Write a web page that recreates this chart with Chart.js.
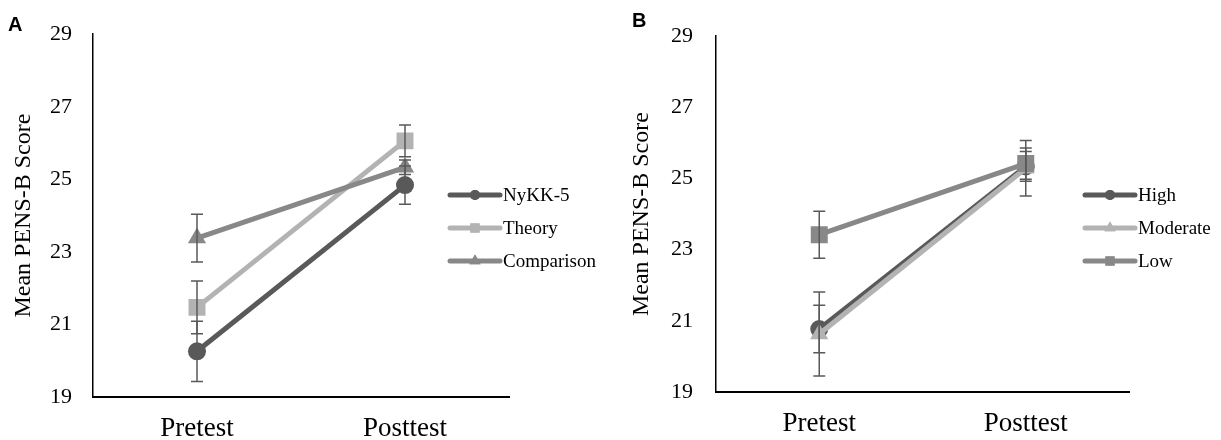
<!DOCTYPE html>
<html>
<head>
<meta charset="utf-8">
<script src="https://cdn.jsdelivr.net/npm/chart.js@4.4.1/dist/chart.umd.min.js"></script>
<style>
  html, body { margin: 0; padding: 0; background: #ffffff; }
  #wrap { position: relative; width: 1221px; height: 440px; overflow: hidden; background: #fff; }
  canvas { position: absolute; top: 0; }
  #cA { left: 0; }
  #cB { left: 610px; }
  .plabel { position: absolute; font-family: "Liberation Sans", Arial, sans-serif; font-weight: bold; font-size: 20px; color: #000; line-height: 1; }
</style>
</head>
<body>
<div id="wrap">
  <canvas id="cA" width="610" height="440"></canvas>
  <canvas id="cB" width="611" height="440"></canvas>
  <div class="plabel" style="left:8px; top:14px;">A</div>
  <div class="plabel" style="left:632px; top:10px;">B</div>
</div>
<script>
// ---------- data ----------
const categories = ['Pretest', 'Posttest'];
const yTicks = [19, 21, 23, 25, 27, 29];
const yTitle = 'Mean PENS-B Score';

// Panel A
const seriesNamesA = ['NyKK-5', 'Theory', 'Comparison'];
const nykkMeans = [20.26, 24.84];
const nykkErr = [0.83, 0.53];
const theoryMeans = [21.47, 26.06];
const theoryErr = [0.73, 0.44];
const comparisonMeans = [23.38, 25.33];
const comparisonErr = [0.66, 0.20];

// Panel B
const seriesNamesB = ['High', 'Moderate', 'Low'];
const highMeans = [20.77, 25.34];
const highErr = [0.67, 0.42];
const moderateMeans = [20.63, 25.29];
const moderateErr = [1.18, 0.78];
const lowMeans = [23.42, 25.42];
const lowErr = [0.66, 0.44];

// ---------- styles ----------
const DARK = '#595959', LIGHT = '#b3b3b3', MID = '#888888';
const SERIF = '"Liberation Serif", "Times New Roman", serif';

function ds(label, data, err, color, style, radius, order) {
  return {
    label, data, err,
    borderColor: color, backgroundColor: color,
    borderWidth: 5,
    pointStyle: style, pointRadius: radius, pointHoverRadius: radius,
    pointBackgroundColor: color, pointBorderColor: color, pointBorderWidth: 0,
    tension: 0, order
  };
}

const errorBarPlugin = {
  id: 'errorBars',
  afterDatasetsDraw(chart) {
    const ctx = chart.ctx;
    const ys = chart.scales.y;
    ctx.save();
    ctx.strokeStyle = '#595959';
    ctx.lineWidth = 1.5;
    chart.data.datasets.forEach((d, i) => {
      const meta = chart.getDatasetMeta(i);
      meta.data.forEach((pt, j) => {
        const v = d.data[j], e = d.err[j];
        const x = pt.x;
        const yt = ys.getPixelForValue(v + e);
        const yb = ys.getPixelForValue(v - e);
        ctx.beginPath();
        ctx.moveTo(x, yt); ctx.lineTo(x, yb);
        ctx.moveTo(x - 6, yt); ctx.lineTo(x + 6, yt);
        ctx.moveTo(x - 6, yb); ctx.lineTo(x + 6, yb);
        ctx.stroke();
      });
    });
    ctx.restore();
  }
};

const legendPlugin = {
  id: 'customLegend',
  afterDraw(chart, args, opts) {
    const ctx = chart.ctx;
    ctx.save();
    const ds = chart.data.datasets;
    ds.forEach((d, i) => {
      const y = opts.y0 + i * opts.gap;
      ctx.strokeStyle = d.borderColor;
      ctx.lineWidth = 5;
      ctx.lineCap = 'round';
      ctx.beginPath();
      ctx.moveTo(opts.x0, y); ctx.lineTo(opts.x0 + opts.len, y);
      ctx.stroke();
      ctx.fillStyle = d.borderColor;
      const cx = opts.x0 + opts.len / 2;
      const r = d.pointStyle === 'rect' ? 6.5 : (d.pointStyle === 'triangle' ? 6.5 : 5);
      Chart.helpers.drawPoint(ctx, { pointStyle: d.pointStyle, radius: r, rotation: 0, borderWidth: 0 }, cx, y);
      ctx.fill();
      ctx.fillStyle = '#000';
      ctx.font = '19px ' + SERIF;
      ctx.textBaseline = 'middle';
      ctx.textAlign = 'left';
      ctx.fillText(d.label, opts.x0 + opts.len + 3, y + 1);
    });
    ctx.restore();
  }
};

function makeChart(id, datasets, geo) {
  return new Chart(document.getElementById(id), {
    type: 'line',
    data: { labels: categories, datasets },
    plugins: [errorBarPlugin, legendPlugin],
    options: {
      responsive: false,
      maintainAspectRatio: false,
      animation: false,
      events: [],
      layout: { padding: { top: geo.top, right: geo.right, left: 0, bottom: 0 } },
      plugins: {
        legend: { display: false },
        tooltip: { enabled: false },
        customLegend: geo.legend
      },
      scales: {
        x: {
          type: 'category',
          offset: true,
          grid: { display: false, drawTicks: false },
          border: { display: true, color: '#000', width: 2 },
          ticks: { color: '#000', font: { family: SERIF, size: 27 }, padding: geo.xPad, maxRotation: 0 },
          afterFit(s) { s.height = geo.xHeight; }
        },
        y: {
          min: 19, max: 29,
          afterBuildTicks(s) { s.ticks = yTicks.map(v => ({ value: v })); },
          grid: { display: false, drawTicks: false },
          border: { display: true, color: '#000', width: 1.5 },
          ticks: { color: '#000', font: { family: SERIF, size: 22 }, padding: geo.yPad },
          title: { display: true, text: yTitle, color: '#000', font: { family: SERIF, size: 24 }, padding: { top: geo.titlePad, bottom: 0 } },
          afterFit(s) { s.width = geo.yWidth; }
        }
      }
    }
  });
}

makeChart('cA', [
  ds(seriesNamesA[0], nykkMeans, nykkErr, DARK, 'circle', 9, 3),
  ds(seriesNamesA[1], theoryMeans, theoryErr, LIGHT, 'rect', 12, 2),
  ds(seriesNamesA[2], comparisonMeans, comparisonErr, MID, 'triangle', 10.5, 1)
], { top: 29, right: 101, yWidth: 93, xHeight: 43, yPad: 21, xPad: 16, titlePad: 9,
     legend: { x0: 450, y0: 195, gap: 33, len: 50 } });

makeChart('cB', [
  ds(seriesNamesB[0], highMeans, highErr, DARK, 'circle', 9, 3),
  ds(seriesNamesB[1], moderateMeans, moderateErr, LIGHT, 'triangle', 10.5, 2),
  ds(seriesNamesB[2], lowMeans, lowErr, MID, 'rect', 12, 1)
], { top: 24, right: 92, yWidth: 106, xHeight: 48, yPad: 23, xPad: 16, titlePad: 17,
     legend: { x0: 475, y0: 195, gap: 33, len: 50 } });
</script>
</body>
</html>
